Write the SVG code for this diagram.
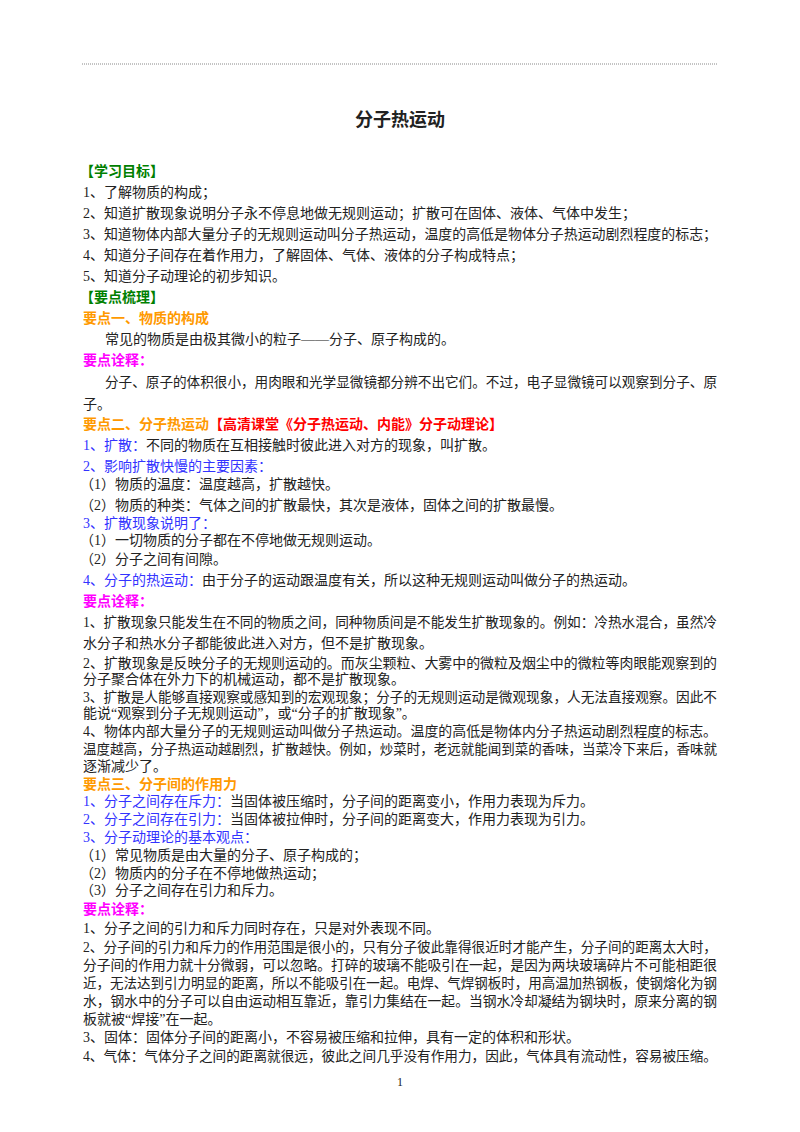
<svg xmlns="http://www.w3.org/2000/svg" width="800" height="1132" viewBox="0 0 800 1132">
<style>
text{font-family:"Liberation Serif","Noto Sans CJK SC",serif;font-size:14px;fill:#222}
.g{fill:#008000;font-weight:bold}
.o{fill:#FF9900;font-weight:bold}
.m{fill:#FF00FF;font-weight:bold}
.u{fill:#3333FF}
.r{fill:#FF0000;font-weight:bold}
</style>
<rect width="800" height="1132" fill="#fff"/>
<line x1="82" y1="64" x2="718" y2="64" stroke="#888" stroke-width="1" stroke-dasharray="1,1"/>
<text x="400" y="126" text-anchor="middle" style="font-size:18px;font-weight:bold">分子热运动</text>
<text x="80" y="176" class="g">【学习目标】</text>
<text x="83" y="197">1、了解物质的构成；</text>
<text x="83" y="218">2、知道扩散现象说明分子永不停息地做无规则运动；扩散可在固体、液体、气体中发生；</text>
<text x="83" y="239" textLength="634" lengthAdjust="spacingAndGlyphs">3、知道物体内部大量分子的无规则运动叫分子热运动，温度的高低是物体分子热运动剧烈程度的标志；</text>
<text x="83" y="260">4、知道分子间存在着作用力，了解固体、气体、液体的分子构成特点；</text>
<text x="83" y="281">5、知道分子动理论的初步知识。</text>
<text x="80" y="302" class="g">【要点梳理】</text>
<text x="83" y="323" class="o">要点一、物质的构成</text>
<text x="105" y="344">常见的物质是由极其微小的粒子——分子、原子构成的。</text>
<text x="83" y="365" class="m">要点诠释：</text>
<text x="105" y="387" textLength="612" lengthAdjust="spacingAndGlyphs">分子、原子的体积很小，用肉眼和光学显微镜都分辨不出它们。不过，电子显微镜可以观察到分子、原</text>
<text x="83" y="409">子。</text>
<text x="83" y="429"><tspan class="o">要点二、分子热运动</tspan><tspan class="r">【高清课堂《分子热运动、内能》分子动理论】</tspan></text>
<text x="83" y="450"><tspan class="u">1、扩散：</tspan>不同的物质在互相接触时彼此进入对方的现象，叫扩散。</text>
<text x="83" y="471" class="u">2、影响扩散快慢的主要因素：</text>
<text x="80" y="489">（1）物质的温度：温度越高，扩散越快。</text>
<text x="80" y="510">（2）物质的种类：气体之间的扩散最快，其次是液体，固体之间的扩散最慢。</text>
<text x="83" y="528" class="u">3、扩散现象说明了：</text>
<text x="80" y="545">（1）一切物质的分子都在不停地做无规则运动。</text>
<text x="80" y="564">（2）分子之间有间隙。</text>
<text x="83" y="585"><tspan class="u">4、分子的热运动：</tspan>由于分子的运动跟温度有关，所以这种无规则运动叫做分子的热运动。</text>
<text x="83" y="606" class="m">要点诠释：</text>
<text x="83" y="627" textLength="634" lengthAdjust="spacingAndGlyphs">1、扩散现象只能发生在不同的物质之间，同种物质间是不能发生扩散现象的。例如：冷热水混合，虽然冷</text>
<text x="83" y="648">水分子和热水分子都能彼此进入对方，但不是扩散现象。</text>
<text x="83" y="668" textLength="634" lengthAdjust="spacingAndGlyphs">2、扩散现象是反映分子的无规则运动的。而灰尘颗粒、大雾中的微粒及烟尘中的微粒等肉眼能观察到的</text>
<text x="83" y="684">分子聚合体在外力下的机械运动，都不是扩散现象。</text>
<text x="83" y="702" textLength="634" lengthAdjust="spacingAndGlyphs">3、扩散是人能够直接观察或感知到的宏观现象；分子的无规则运动是微观现象，人无法直接观察。因此不</text>
<text x="83" y="718">能说“观察到分子无规则运动”，或“分子的扩散现象”。</text>
<text x="83" y="736" textLength="634" lengthAdjust="spacingAndGlyphs">4、物体内部大量分子的无规则运动叫做分子热运动。温度的高低是物体内分子热运动剧烈程度的标志。</text>
<text x="83" y="754" textLength="634" lengthAdjust="spacingAndGlyphs">温度越高，分子热运动越剧烈，扩散越快。例如，炒菜时，老远就能闻到菜的香味，当菜冷下来后，香味就</text>
<text x="83" y="771">逐渐减少了。</text>
<text x="83" y="789" class="o">要点三、分子间的作用力</text>
<text x="83" y="806"><tspan class="u">1、分子之间存在斥力：</tspan>当固体被压缩时，分子间的距离变小，作用力表现为斥力。</text>
<text x="83" y="824"><tspan class="u">2、分子之间存在引力：</tspan>当固体被拉伸时，分子间的距离变大，作用力表现为引力。</text>
<text x="83" y="842" class="u">3、分子动理论的基本观点：</text>
<text x="80" y="860">（1）常见物质是由大量的分子、原子构成的；</text>
<text x="80" y="878">（2）物质内的分子在不停地做热运动；</text>
<text x="80" y="895">（3）分子之间存在引力和斥力。</text>
<text x="83" y="914" class="m">要点诠释：</text>
<text x="83" y="933">1、分子之间的引力和斥力同时存在，只是对外表现不同。</text>
<text x="83" y="952" textLength="634" lengthAdjust="spacingAndGlyphs">2、分子间的引力和斥力的作用范围是很小的，只有分子彼此靠得很近时才能产生，分子间的距离太大时，</text>
<text x="83" y="970" textLength="634" lengthAdjust="spacingAndGlyphs">分子间的作用力就十分微弱，可以忽略。打碎的玻璃不能吸引在一起，是因为两块玻璃碎片不可能相距很</text>
<text x="83" y="988" textLength="634" lengthAdjust="spacingAndGlyphs">近，无法达到引力明显的距离，所以不能吸引在一起。电焊、气焊钢板时，用高温加热钢板，使钢熔化为钢</text>
<text x="83" y="1006" textLength="634" lengthAdjust="spacingAndGlyphs">水，钢水中的分子可以自由运动相互靠近，靠引力集结在一起。当钢水冷却凝结为钢块时，原来分离的钢</text>
<text x="83" y="1024">板就被“焊接”在一起。</text>
<text x="83" y="1042">3、固体：固体分子间的距离小，不容易被压缩和拉伸，具有一定的体积和形状。</text>
<text x="83" y="1061" textLength="634" lengthAdjust="spacingAndGlyphs">4、气体：气体分子之间的距离就很远，彼此之间几乎没有作用力，因此，气体具有流动性，容易被压缩。</text>
<text x="400" y="1086" text-anchor="middle" style="font-size:12px">1</text>
</svg>
